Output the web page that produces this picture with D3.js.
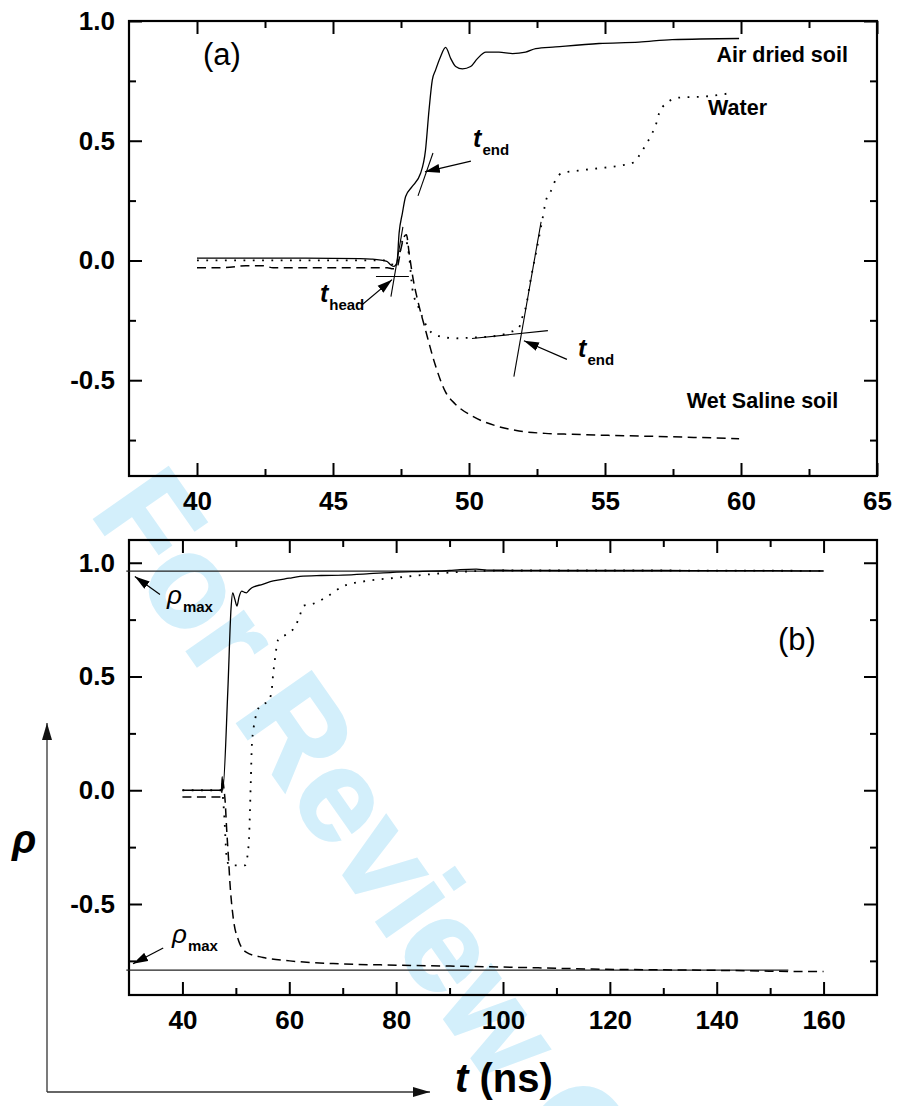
<!DOCTYPE html>
<html><head><meta charset="utf-8">
<script src="https://cdn.jsdelivr.net/npm/d3@7"></script>
<style>
body{margin:0;background:#fff}
svg{display:block}
text{font-family:"Liberation Sans",Arial,Helvetica,sans-serif}
</style>
</head><body>
<svg id="c" width="897" height="1106"></svg>
<script>
// ---------- Panel (a) data: [t (ns), rho] ----------
const airDriedA = [[40,0.01],[42,0.01],[44,0.01],[46,0.008],[46.4,0.006],[46.98,-0.004],[47.12,-0.018],[47.24,-0.025],[47.35,-0.01],[47.43,0.114],[47.55,0.197],[47.67,0.267],[47.9,0.307],[48.22,0.364],[48.4,0.46],[48.53,0.628],[48.65,0.753],[48.77,0.795],[48.95,0.85],[49.14,0.89],[49.33,0.843],[49.51,0.81],[49.76,0.80],[50.06,0.81],[50.31,0.843],[50.62,0.87],[51.1,0.87],[51.6,0.864],[52.08,0.87],[52.45,0.885],[53.18,0.892],[54.78,0.906],[56.25,0.912],[57.47,0.922],[59.93,0.927]];
const waterA = [[40,0.0],[42,0.0],[44,0.0],[46,0.0],[46.9,0.0],[47.1,-0.012],[47.3,-0.02],[47.45,0.03],[47.55,0.08],[47.65,0.09],[47.8,0.017],[47.92,-0.12],[48.16,-0.2],[48.53,-0.29],[48.9,-0.316],[49.5,-0.325],[50.1,-0.322],[51.0,-0.315],[51.5,-0.3],[51.84,-0.28],[51.95,-0.24],[52.1,-0.19],[52.25,-0.09],[52.46,0.03],[52.68,0.16],[52.83,0.25],[53.01,0.29],[53.2,0.34],[53.42,0.365],[54.0,0.375],[54.78,0.385],[55.5,0.395],[56.07,0.41],[56.32,0.45],[56.54,0.49],[56.73,0.53],[56.88,0.57],[56.99,0.615],[57.24,0.655],[57.72,0.68],[58.71,0.685],[59.67,0.70]];
const wetSalineA = [[40,-0.03],[41,-0.03],[41.8,-0.022],[42.4,-0.022],[42.8,-0.03],[43.5,-0.03],[44.5,-0.03],[45.5,-0.03],[46.5,-0.03],[47.0,-0.03],[47.2,-0.035],[47.35,-0.03],[47.5,0.05],[47.62,0.1],[47.7,0.107],[47.8,0.03],[47.95,-0.08],[48.1,-0.16],[48.4,-0.29],[48.77,-0.44],[49.14,-0.55],[49.5,-0.6],[50.12,-0.65],[50.98,-0.69],[51.84,-0.712],[52.8,-0.722],[53.8,-0.726],[55.0,-0.73],[56.25,-0.733],[58.0,-0.738],[59.93,-0.744]];

// ---------- Panel (b) data ----------
const airDriedB = [[40,0.0],[44,0.0],[47,0.0],[47.3,0.005],[47.45,0.06],[47.54,0.0],[48.5,0.44],[49.1,0.8],[49.41,0.868],[49.8,0.84],[50.2,0.81],[50.6,0.85],[51.1,0.875],[51.6,0.87],[52.0,0.868],[52.5,0.88],[53.0,0.89],[55,0.905],[57,0.92],[60,0.932],[62,0.94],[66,0.944],[70,0.946],[75,0.952],[79.4,0.958],[85,0.962],[90,0.966],[92,0.97],[95,0.972],[97,0.968],[100,0.967],[110,0.966],[120,0.966],[130,0.966],[140,0.965],[150,0.965],[160,0.964]];
const waterB = [[40,0],[44,0],[47,0],[47.4,0.0],[47.8,-0.1],[48.3,-0.3],[48.8,-0.33],[49.5,-0.33],[50.5,-0.33],[51.7,-0.33],[52.1,-0.3],[52.5,-0.19],[52.8,0.04],[53.0,0.2],[53.6,0.31],[54.4,0.367],[55.2,0.38],[56.1,0.39],[56.7,0.44],[57.0,0.515],[57.3,0.573],[57.9,0.66],[59.8,0.69],[61.1,0.72],[62.0,0.77],[62.6,0.81],[64.5,0.82],[67,0.85],[70.1,0.897],[74.5,0.92],[79.5,0.933],[85.7,0.948],[94.5,0.963],[100,0.966],[110,0.966],[120,0.966],[130,0.966],[140,0.965],[150,0.965],[160,0.964]];
const wetSalineB = [[40,-0.03],[44,-0.03],[47,-0.03],[47.3,-0.03],[47.5,0.05],[47.8,0.0],[48.0,-0.05],[48.3,-0.18],[48.6,-0.29],[48.9,-0.41],[49.5,-0.56],[50.5,-0.66],[52,-0.713],[55.1,-0.735],[60.1,-0.75],[68.2,-0.762],[80.7,-0.769],[97.6,-0.776],[119.4,-0.787],[138.1,-0.791],[158.7,-0.797],[160,-0.797]];

// ---------- Tick values and labels ----------
const xTicksA = [40,45,50,55,60,65];
const xTickLabelsA = ["40","45","50","55","60","65"];
const xMinorA = [42.5,47.5,52.5,57.5,62.5];
const xTicksB = [40,60,80,100,120,140,160];
const xTickLabelsB = ["40","60","80","100","120","140","160"];
const xMinorB = [50,70,90,110,130,150];
const yTicks = [-0.5,0.0,0.5,1.0];
const yTickLabels = ["-0.5","0.0","0.5","1.0"];
const yMinor = [-0.75,-0.25,0.25,0.75];

// ---------- Annotations (data coordinates) ----------
const tangentsA = [
  [[48.125,0.27],[48.676,0.449]],
  [[46.58,-0.067],[47.79,-0.067]],
  [[47.13,-0.151],[47.57,0.14]],
  [[50.11,-0.326],[52.9,-0.293]],
  [[51.65,-0.485],[52.65,0.161]]
];
const arrowsA = [
  [[50.07,0.415],[48.38,0.37]],
  [[46.07,-0.185],[47.17,-0.08]],
  [[53.6,-0.413],[52.02,-0.335]]
];
const rhoMaxLevels = [0.963,-0.791];
const rhoMaxSpans = [[29.5,160],[29.5,153.4]];
const arrowsB = [
  [[35.8,0.86],[31.1,0.94]],
  [[36.4,-0.693],[30.75,-0.763]]
];

const svg = d3.select("#c");

// watermark
svg.append("text")
  .attr("transform","translate(89,512) rotate(55)")
  .attr("font-size",132).attr("font-weight","bold")
  .attr("fill","#d3effb").attr("stroke","#d3effb").attr("stroke-width",2)
  .text("For Review Only");

// arrow marker
const defs = svg.append("defs");
defs.append("marker").attr("id","ah").attr("markerUnits","userSpaceOnUse")
  .attr("markerWidth",16).attr("markerHeight",10).attr("refX",15).attr("refY",5)
  .attr("orient","auto")
  .append("path").attr("d","M0,0.5 L15,5 L0,9.5 Z").attr("fill","#000");
defs.append("marker").attr("id","bigah").attr("markerUnits","userSpaceOnUse")
  .attr("markerWidth",18).attr("markerHeight",12).attr("refX",17).attr("refY",5)
  .attr("orient","auto")
  .append("path").attr("d","M0,0 L17,5 L0,10 Z").attr("fill","#111");

function panel(cfg){
  const {left,top,right,bottom} = cfg;
  const x = d3.scaleLinear().domain(cfg.xDomain).range([left,right]);
  const y = d3.scaleLinear().domain(cfg.yDomain).range([bottom,top]);
  const g = svg.append("g");
  const style = sel => {
    sel.select(".domain").remove();
    sel.selectAll(".tick line").attr("stroke","#000").attr("stroke-width",2);
    sel.selectAll(".tick text").attr("font-size",26).attr("font-weight","bold")
      .attr("fill","#000").attr("font-family","'Liberation Sans',Arial,sans-serif");
  };
  // bottom
  g.append("g").attr("transform",`translate(0,${bottom})`)
    .call(d3.axisBottom(x).tickValues(cfg.xTicks).tickSize(-13).tickSizeOuter(0).tickPadding(16)
      .tickFormat((d,i)=>cfg.xLabels[i])).call(style);
  g.append("g").attr("transform",`translate(0,${bottom})`)
    .call(d3.axisBottom(x).tickValues(cfg.xMinor).tickSize(-7).tickSizeOuter(0).tickFormat(()=>"")).call(style);
  // top
  g.append("g").attr("transform",`translate(0,${top})`)
    .call(d3.axisTop(x).tickValues(cfg.xTicks).tickSize(-13).tickSizeOuter(0).tickFormat(()=>"")).call(style);
  g.append("g").attr("transform",`translate(0,${top})`)
    .call(d3.axisTop(x).tickValues(cfg.xMinor).tickSize(-7).tickSizeOuter(0).tickFormat(()=>"")).call(style);
  // left
  g.append("g").attr("transform",`translate(${left},0)`)
    .call(d3.axisLeft(y).tickValues(yTicks).tickSize(-13).tickSizeOuter(0).tickPadding(14)
      .tickFormat((d,i)=>yTickLabels[i])).call(style);
  g.append("g").attr("transform",`translate(${left},0)`)
    .call(d3.axisLeft(y).tickValues(yMinor).tickSize(-7).tickSizeOuter(0).tickFormat(()=>"")).call(style);
  // right
  g.append("g").attr("transform",`translate(${right},0)`)
    .call(d3.axisRight(y).tickValues(yTicks).tickSize(-13).tickSizeOuter(0).tickFormat(()=>"")).call(style);
  g.append("g").attr("transform",`translate(${right},0)`)
    .call(d3.axisRight(y).tickValues(yMinor).tickSize(-7).tickSizeOuter(0).tickFormat(()=>"")).call(style);
  // frame
  g.append("rect").attr("x",left).attr("y",top).attr("width",right-left).attr("height",bottom-top)
    .attr("fill","none").attr("stroke","#000").attr("stroke-width",2.2);
  const line = d3.line().x(d=>x(d[0])).y(d=>y(d[1])).curve(d3.curveMonotoneX);
  const seg = d3.line().x(d=>x(d[0])).y(d=>y(d[1]));
  return {g,x,y,line,seg};
}

function curves(p, solid, dotted, dashed){
  p.g.append("path").datum(solid).attr("d",p.line).attr("fill","none").attr("stroke","#000").attr("stroke-width",1.3);
  p.g.append("path").datum(dotted).attr("d",p.line).attr("fill","none").attr("stroke","#000").attr("stroke-width",1.8)
    .attr("stroke-dasharray","1.8,7.5");
  p.g.append("path").datum(dashed).attr("d",p.line).attr("fill","none").attr("stroke","#000").attr("stroke-width",1.5)
    .attr("stroke-dasharray","9,5.5");
}

function subLabel(p, pos, main, sub, mainSize, italicBold){
  const t = p.g.append("text").attr("x",p.x(pos[0])).attr("y",p.y(pos[1])).attr("fill","#000");
  const m = t.append("tspan").attr("font-size",mainSize).attr("font-style","italic").text(main);
  if (italicBold) m.attr("font-weight","bold");
  t.append("tspan").attr("font-size",15).attr("font-weight","bold").attr("dy",8).attr("dx",1).text(sub);
}

// ----- Panel (a) -----
const pa = panel({left:129,top:21,right:877,bottom:476,xDomain:[37.5,65],yDomain:[-0.9,1.0],
  xTicks:xTicksA,xLabels:xTickLabelsA,xMinor:xMinorA});
curves(pa, airDriedA, waterA, wetSalineA);
tangentsA.forEach(s=>pa.g.append("path").attr("d",pa.seg(s)).attr("stroke","#000").attr("stroke-width",1.1).attr("fill","none"));
arrowsA.forEach(s=>pa.g.append("path").attr("d",pa.seg(s)).attr("stroke","#000").attr("stroke-width",1.2).attr("fill","none").attr("marker-end","url(#ah)"));
pa.g.append("text").attr("x",pa.x(63.93)).attr("y",pa.y(0.829)).attr("text-anchor","end")
  .attr("font-size",21.5).attr("font-weight","bold").text("Air dried soil");
pa.g.append("text").attr("x",pa.x(58.79)).attr("y",pa.y(0.607))
  .attr("font-size",21.5).attr("font-weight","bold").text("Water");
pa.g.append("text").attr("x",pa.x(58.01)).attr("y",pa.y(-0.616))
  .attr("font-size",21.5).attr("font-weight","bold").text("Wet Saline soil");
pa.g.append("text").attr("x",pa.x(40.22)).attr("y",pa.y(0.816)).attr("font-size",31).text("(a)");
subLabel(pa,[50.15,0.474],"t","end",25,true);
subLabel(pa,[44.52,-0.174],"t","head",25,true);
subLabel(pa,[54.01,-0.403],"t","end",25,true);

// ----- Panel (b) -----
const pb = panel({left:129,top:540,right:877,bottom:995,xDomain:[30,170],yDomain:[-0.9,1.1],
  xTicks:xTicksB,xLabels:xTickLabelsB,xMinor:xMinorB});
rhoMaxLevels.forEach((v,i)=>pb.g.append("path")
  .attr("d",pb.seg([[rhoMaxSpans[i][0],v],[rhoMaxSpans[i][1],v]]))
  .attr("stroke","#222").attr("stroke-width",1.3).attr("fill","none"));
curves(pb, airDriedB, waterB, wetSalineB);
arrowsB.forEach(s=>pb.g.append("path").attr("d",pb.seg(s)).attr("stroke","#000").attr("stroke-width",1.2).attr("fill","none").attr("marker-end","url(#ah)"));
pb.g.append("text").attr("x",pb.x(151.47)).attr("y",pb.y(0.616)).attr("font-size",31).text("(b)");
subLabel(pb,[37.11,0.819],"ρ","max",26,false);
subLabel(pb,[38.05,-0.671],"ρ","max",26,false);

// ----- Shared axis titles with arrows -----
svg.append("path").attr("d","M47,1092 L47,723").attr("stroke","#333").attr("stroke-width",1.3).attr("fill","none").attr("marker-end","url(#bigah)");
svg.append("path").attr("d","M47,1092 L430,1092").attr("stroke","#333").attr("stroke-width",1.3).attr("fill","none").attr("marker-end","url(#bigah)");
svg.append("text").attr("x",12).attr("y",853).attr("font-size",40).attr("font-style","italic").attr("font-weight","bold").text("ρ");
const tt = svg.append("text").attr("x",455).attr("y",1092).attr("font-size",40).attr("font-weight","bold");
tt.append("tspan").attr("font-style","italic").text("t");
tt.append("tspan").text(" (ns)");
</script>
</body></html>
